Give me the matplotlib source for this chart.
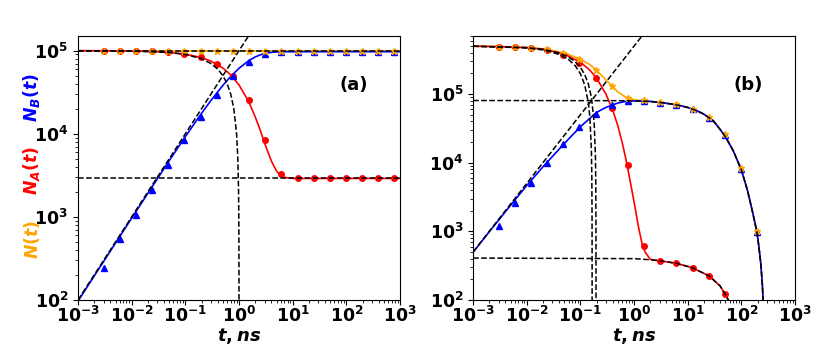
import numpy as np
import matplotlib
matplotlib.use('Agg')
import matplotlib.pyplot as plt

plt.rcParams['mathtext.fontset'] = 'custom'
plt.rcParams['mathtext.rm'] = 'DejaVu Sans:bold'
plt.rcParams['mathtext.it'] = 'DejaVu Sans:bold:italic'
plt.rcParams['mathtext.bf'] = 'DejaVu Sans:bold'

# ---- panel (a) : markers ----
T_PTS_A = [0.003, 0.006, 0.012, 0.024, 0.048, 0.096, 0.192, 0.384, 0.768, 1.54,
           3.07, 6.14, 12.3, 24.6, 49.2, 98.3, 197, 393, 786]
NA_PTS_A = [1.0e5, 1.0e5, 1.0e5, 9.9e4, 9.7e4, 9.1e4, 8.3e4, 7.0e4, 4.9e4, 2.55e4,
            8.4e3, 3.3e3, 2.9e3, 2.9e3, 2.9e3, 2.9e3, 2.9e3, 2.9e3, 2.9e3]
NB_PTS_A = [245, 540, 1050, 2110, 4230, 8300, 1.58e4, 2.95e4, 4.95e4, 7.4e4,
            9.1e4, 9.7e4, 9.7e4, 9.7e4, 9.7e4, 9.7e4, 9.7e4, 9.7e4, 9.7e4]
N_PTS_A = [1.0e5] * 19

# ---- panel (a) : curves ----
T_CUR_A = [0.001, 0.002, 0.005, 0.01, 0.02, 0.05, 0.1, 0.2, 0.3, 0.5, 0.7, 1.0, 1.5,
           2.0, 2.5, 3.0, 4.0, 5.0, 6.0, 7.0, 10, 100, 1000]
NA_CUR_A = [99900, 99800, 99500, 99000, 98100, 95300, 90800, 82400, 74800, 61800, 51100,
            38600, 24600, 16000, 10900, 7700, 4700, 3550, 3140, 2990, 2900, 2900, 2900]
NB_CUR_A = [97, 194, 484, 966, 1920, 4740, 9240, 17600, 25200, 38200, 48900, 61400,
            75400, 84000, 89100, 92300, 95300, 96400, 96900, 97000, 97100, 97100, 97100]
N_CUR_A = [1e5] * 23

# dashed guides (a)
T_LIN_A = [0.001, 1.5]
N_LIN_A = [100, 1.5e5]
T_DROP_A = [0.001, 0.01, 0.05, 0.1, 0.2, 0.3, 0.4, 0.5, 0.6, 0.7, 0.8, 0.9, 0.95, 0.98,
            0.99, 0.995, 0.999, 0.9995]
N_DROP_A = [99900, 99000, 95000, 90000, 80000, 70000, 60000, 50000, 40000, 30000, 20000,
            10000, 5000, 2000, 1000, 500, 100, 50]
N0_A = 1e5
NINF_A = 2.9e3

# ---- panel (b) : markers ----
T_PTS_B = T_PTS_A[:17]
NA_PTS_B = [4.9e5, 4.8e5, 4.65e5, 4.35e5, 3.75e5, 2.85e5, 1.72e5, 6.2e4, 9.4e3, 610,
            370, 342, 295, 223, 122]
NB_PTS_B = [1.2e3, 2.6e3, 5.0e3, 9.8e3, 1.86e4, 3.3e4, 5.1e4, 6.9e4, 7.9e4, 7.9e4,
            7.5e4, 7.0e4, 6.05e4, 4.5e4, 2.55e4, 8.2e3, 990]
N_PTS_B = [4.92e5, 4.85e5, 4.72e5, 4.5e5, 3.95e5, 3.25e5, 2.25e5, 1.32e5, 8.8e4, 8.1e4,
           7.6e4, 7.05e4, 6.1e4, 4.6e4, 2.6e4, 8.3e3, 1.0e3]

# ---- panel (b) : curves ----
T_NA_B = [0.001, 0.003, 0.01, 0.02, 0.05, 0.1, 0.15, 0.2, 0.3, 0.4, 0.5, 0.6, 0.7, 0.8,
          1.0, 1.2, 1.4, 1.6, 2.0, 3.0, 6.0, 12, 25, 40, 49, 57, 65]
NA_CUR_B = [497000, 492000, 474000, 449000, 382000, 291000, 222000, 170000, 99000, 58000,
            34000, 19600, 11400, 6700, 2660, 1180, 670, 500, 390, 372, 343, 296, 224,
            160, 123, 100, 80]
T_TAIL_B = [0.001, 0.5, 1.0, 2, 3, 5, 7, 10, 15, 20, 30, 40, 50, 70, 100, 130, 160, 193,
            210, 230, 245, 253, 265]
NB_TAIL_B = [80500, 80000, 79500, 78000, 75500, 71500, 68200, 63700, 56900, 50800, 40600,
             30500, 24000, 15000, 7800, 3900, 1950, 1000, 620, 330, 165, 100, 60]
T_NB_B = [0.001, 0.002, 0.005, 0.01, 0.02, 0.05, 0.1, 0.2, 0.3, 0.5, 0.7, 1.0, 1.5, 2, 3,
          5, 7, 10, 15, 20, 30, 40, 50, 70, 100, 130, 160, 193, 210, 230, 245, 253, 265]
NB_CUR_B = [495, 985, 2400, 4650, 8700, 19000, 33500, 54000, 64000, 74000, 78000, 79500,
            79000, 78000, 75500, 71500, 68200, 63700, 56900, 50800, 40600, 30500, 24000,
            15000, 7800, 3900, 1950, 1000, 620, 330, 165, 100, 60]
N_CUR_B = [499000, 478000, 456000, 398000, 322000, 268000, 222000, 160000, 128000, 107000,
           90000, 82500, 79500, 78000, 75500, 71500, 68200, 63700, 56900, 50800, 40600,
           30500, 24000, 15000, 7800, 3900, 1950, 1000, 620, 330, 165, 100, 60]
T_N_B = [0.001, 0.01, 0.02, 0.05, 0.1, 0.15, 0.2, 0.3, 0.4, 0.5, 0.7, 1.0, 1.5, 2, 3, 5, 7,
         10, 15, 20, 30, 40, 50, 70, 100, 130, 160, 193, 210, 230, 245, 253, 265]

# dashed guides (b)
T_LIN_B = [0.001, 1.4]
N_LIN_B = [500, 7.0e5]
T_LOW_B = [0.001, 1.0, 2, 3, 6, 12, 25, 40, 49, 57, 65]
N_LOW_B = [408, 400, 385, 372, 343, 296, 224, 160, 123, 100, 80]
T_DROP1_B = [0.001, 0.01, 0.02, 0.04, 0.06, 0.08, 0.1, 0.12, 0.14, 0.15, 0.16, 0.163,
             0.1645, 0.1649, 0.16498]
N_DROP1_B = [497000, 470000, 439000, 379000, 318000, 258000, 197000, 136000, 75800,
             45500, 15200, 6060, 1520, 300, 60]
T_DROP2_B = [0.001, 0.01, 0.02, 0.04, 0.06, 0.08, 0.1, 0.12, 0.14, 0.16, 0.18, 0.19,
             0.193, 0.1945, 0.1949, 0.19498]
N_DROP2_B = [497400, 474000, 449000, 397000, 346000, 295000, 244000, 192000, 141000,
             89700, 38500, 12800, 5130, 1280, 256, 51]

XT = [1e-3, 1e-2, 1e-1, 1e0, 1e1, 1e2, 1e3]
YT = [1e2, 1e3, 1e4, 1e5]

fig = plt.figure(figsize=(8.3, 3.63), dpi=100)
ax_a = fig.add_axes([0.094, 0.1736, 0.388, 0.7272])
ax_b = fig.add_axes([0.570, 0.1736, 0.388, 0.7272])

dash = dict(color='black', ls='--', lw=1.1, zorder=4)


def style(ax, ymax, label):
    ax.set_xscale('log')
    ax.set_yscale('log')
    ax.set_xlim(1e-3, 1e3)
    ax.set_ylim(1e2, ymax)
    ax.set_xticks(XT)
    ax.set_yticks(YT)
    ax.tick_params(axis='both', which='major', labelsize=12.5)
    ax.tick_params(axis='x', which='major', pad=1)
    for lab in ax.get_xticklabels() + ax.get_yticklabels():
        lab.set_fontweight('bold')
    ax.set_xlabel(r'$t, ns$', fontsize=13, labelpad=0)
    ax.text(0.855, 0.815, label, transform=ax.transAxes, fontsize=13,
            fontweight='bold', ha='center', va='center')


# panel (a)
ax = ax_a
ax.plot(T_CUR_A, N_CUR_A, color='orange', lw=1.2, zorder=2)
ax.plot(T_CUR_A, NA_CUR_A, color='red', lw=1.2, zorder=2)
ax.plot(T_CUR_A, NB_CUR_A, color='blue', lw=1.2, zorder=2)
ax.plot(T_PTS_A, NA_PTS_A, 'o', color='red', ms=4, zorder=3)
ax.plot(T_PTS_A, NB_PTS_A, '^', color='blue', ms=4, zorder=3)
ax.plot(T_PTS_A, N_PTS_A, '*', color='orange', ms=5, zorder=3)
ax.plot([1e-3, 1e3], [N0_A, N0_A], **dash)
ax.plot([1e-3, 1e3], [NINF_A, NINF_A], **dash)
ax.plot(T_LIN_A, N_LIN_A, **dash)
ax.plot(T_DROP_A, N_DROP_A, **dash)
style(ax, 1.5e5, '(a)')

# panel (b)
ax = ax_b
ax.plot(T_N_B, N_CUR_B, color='orange', lw=1.2, zorder=2)
ax.plot(T_NA_B, NA_CUR_B, color='red', lw=1.2, zorder=2)
ax.plot(T_NB_B, NB_CUR_B, color='blue', lw=1.2, zorder=2)
ax.plot(T_PTS_B[:len(NA_PTS_B)], NA_PTS_B, 'o', color='red', ms=4, zorder=3)
ax.plot(T_PTS_B, NB_PTS_B, '^', color='blue', ms=4, zorder=3)
ax.plot(T_PTS_B, N_PTS_B, '*', color='orange', ms=5, zorder=3)
ax.plot(T_TAIL_B, NB_TAIL_B, **dash)
ax.plot(T_LOW_B, N_LOW_B, **dash)
ax.plot(T_LIN_B, N_LIN_B, **dash)
ax.plot(T_DROP1_B, N_DROP1_B, **dash)
ax.plot(T_DROP2_B, N_DROP2_B, **dash)
style(ax, 7.0e5, '(b)')

# coloured y label of panel (a)
fig.text(0.038, 1 - 98 / 363, r'$N_B(t)$', color='blue', rotation=90,
         fontsize=12.5, ha='center', va='center')
fig.text(0.038, 1 - 170 / 363, r'$N_A(t)$', color='red', rotation=90,
         fontsize=12.5, ha='center', va='center')
fig.text(0.038, 1 - 239 / 363, r'$N(t)$', color='orange', rotation=90,
         fontsize=12.5, ha='center', va='center')

fig.savefig('out.png', dpi=100)
